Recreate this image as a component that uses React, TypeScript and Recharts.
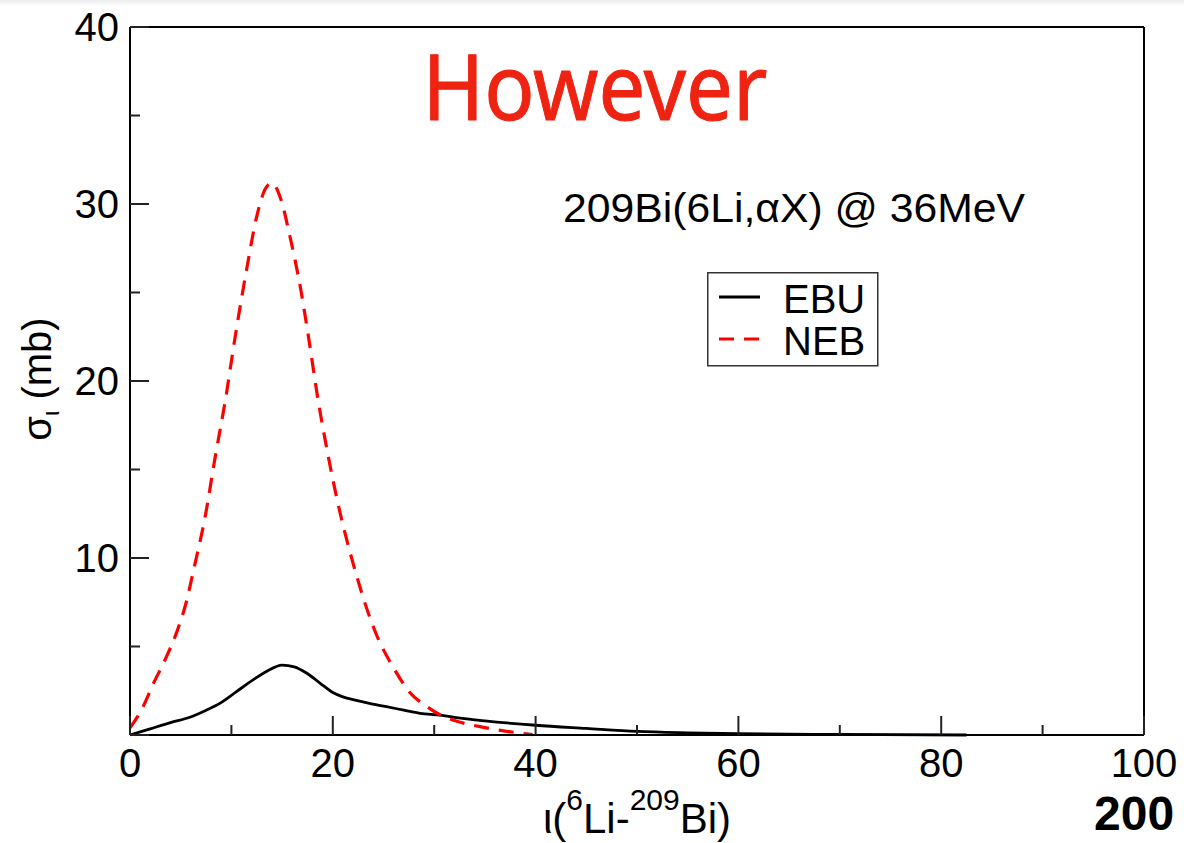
import React from 'react';
import { LineChart, Line, XAxis, YAxis, Legend } from 'recharts';

// ---- data ----
const ebuX = [0, 2, 4, 5.9, 7.5, 8.9, 10.5, 12.1, 13.5, 15.0, 16.2, 17.4, 18.7, 20.0, 21.0, 22.0, 23.5, 25.3, 27.0, 28.6, 30.6, 32.0, 35.0, 40.0, 45.0, 50.0, 55.0, 60.0, 70.0, 82.5];
const ebuY = [0, 0.35, 0.7, 1.0, 1.4, 1.8, 2.45, 3.1, 3.6, 3.95, 3.85, 3.5, 2.95, 2.4, 2.15, 2.0, 1.8, 1.6, 1.4, 1.22, 1.12, 1.0, 0.8, 0.55, 0.37, 0.2, 0.12, 0.07, 0.03, 0.0];

const nebX = [0, 1.2, 2.3, 3.5, 4.6, 5.5, 6.3, 7.4, 8.4, 9.4, 10.4, 11.5, 12.5, 13.3, 14.0, 14.8, 15.8, 16.8, 17.6, 18.5, 19.5, 20.5, 22.0, 24.0, 26.3, 27.6, 29.3, 30.6, 32.0, 35.0, 37.5, 39.7];
const nebY = [0.4, 1.5, 2.9, 4.3, 5.8, 7.4, 9.4, 12.3, 15.7, 18.9, 22.6, 26.3, 29.3, 30.8, 31.2, 30.4, 28.1, 25.3, 22.5, 19.1, 15.9, 13.1, 9.7, 6.1, 3.5, 2.4, 1.6, 1.13, 0.82, 0.42, 0.18, 0.02];

const seriesNames = ['EBU', 'NEB'];
const xTicks = [0, 10, 20, 30, 40, 50, 60, 70, 80, 90, 100];
const xLabelTicks = [0, 20, 40, 60, 80, 100];
const yTicks = [0, 5, 10, 15, 20, 25, 30, 35, 40];
const yLabelTicks = [10, 20, 30, 40];

const titleText = 'However';
const reactionText = '209Bi(6Li,\u03b1X) @ 36MeV';
const cornerText = '200';

const ebuData = ebuX.map((x, i) => ({ x, y: ebuY[i] }));
const nebData = nebX.map((x, i) => ({ x, y: nebY[i] }));

const FONT = "'Liberation Sans', Arial, Helvetica, sans-serif";
const MAJOR = 19;
const MINOR = 10;

const BottomTick = (props: any) => {
  const { x, y, payload } = props;
  const v = payload.value;
  const major = xLabelTicks.includes(v);
  return (
    <g>
      <line x1={x} y1={y} x2={x} y2={y - (major ? MAJOR : MINOR)} stroke="#222" strokeWidth={2} />
      {major && (
        <text x={x} y={y + 42} textAnchor="middle" fontSize={40} fontFamily={FONT} fill="#000">
          {v}
        </text>
      )}
    </g>
  );
};

const TopTick = (props: any) => {
  const { x, y, payload } = props;
  const major = xLabelTicks.includes(payload.value);
  return <line x1={x} y1={y} x2={x} y2={y + (major ? MAJOR : MINOR)} stroke="#222" strokeWidth={2} />;
};

const LeftTick = (props: any) => {
  const { x, y, payload } = props;
  const v = payload.value;
  const major = v % 10 === 0;
  return (
    <g>
      <line x1={x} y1={y} x2={x + (major ? MAJOR : MINOR)} y2={y} stroke="#222" strokeWidth={2} />
      {yLabelTicks.includes(v) && (
        <text x={x - 11} y={y + 14} textAnchor="end" fontSize={40} fontFamily={FONT} fill="#000">
          {v}
        </text>
      )}
    </g>
  );
};

const RightTick = (props: any) => {
  const { x, y, payload } = props;
  const major = payload.value % 10 === 0;
  return <line x1={x} y1={y} x2={x - (major ? MAJOR : MINOR)} y2={y} stroke="#222" strokeWidth={2} />;
};

const XTitle = (props: any) => {
  const vb = props.viewBox || { x: 0, y: 0, width: 0, height: 0 };
  const cx = vb.x + vb.width / 2;
  return (
    <text x={cx} y={vb.y + 98} textAnchor="middle" fontSize={42} fontFamily={FONT} fill="#000">
      <tspan>{'\u03b9('}</tspan>
      <tspan fontSize={30} dy={-23}>6</tspan>
      <tspan dy={23}>Li-</tspan>
      <tspan fontSize={30} dy={-23}>209</tspan>
      <tspan dy={23}>Bi)</tspan>
    </text>
  );
};

const YTitle = (props: any) => {
  const vb = props.viewBox || { x: 0, y: 0, width: 0, height: 0 };
  const cx = vb.x + 51;
  const cy = vb.y + vb.height / 2 - 2;
  return (
    <text
      x={cx}
      y={cy}
      transform={`rotate(-90, ${cx}, ${cy})`}
      textAnchor="middle"
      fontSize={40}
      fontFamily={FONT}
      fill="#000"
    >
      <tspan>{'\u03c3'}</tspan>
      <tspan fontSize={24} dy={8}>{'\u03b9'}</tspan>
      <tspan dy={-8}>{' (mb)'}</tspan>
    </text>
  );
};

const dashes: Record<string, string | undefined> = { EBU: undefined, NEB: '15 10' };

const renderLegend = (props: any) => {
  const payload: any[] = props.payload || [];
  return (
    <svg width={172} height={95} style={{ display: 'block' }}>
      <rect x={0.75} y={0.75} width={170} height={93} fill="#fff" stroke="#333" strokeWidth={1.5} />
      {seriesNames.map((name, i) => {
        const entry = payload.find((p) => p.value === name);
        const color = entry ? entry.color : '#000';
        const ly = 25 + i * 42;
        return (
          <g key={name}>
            <line x1={12} y1={ly} x2={53} y2={ly} stroke={color} strokeWidth={2.8} strokeDasharray={dashes[name]} />
            <text x={76} y={ly + 16} fontSize={40} fontFamily={FONT} fill="#000">
              {name}
            </text>
          </g>
        );
      })}
    </svg>
  );
};

export default function App() {
  return (
    <div style={{ position: 'absolute', left: 0, top: 0, width: 1184, height: 843, background: '#fff', overflow: 'hidden' }}>
      <div style={{ position: 'absolute', left: 0, top: 0, width: 1184, height: 6, background: 'linear-gradient(#ececec, #ffffff)' }} />
      <LineChart width={1184} height={843} margin={{ top: 26, right: 39, bottom: 0, left: 0 }}>
        <XAxis
          xAxisId="bottom"
          dataKey="x"
          type="number"
          domain={[0, 100]}
          ticks={xTicks}
          interval={0}
          height={108}
          tickSize={0}
          tickMargin={0}
          tickLine={false}
          axisLine={{ stroke: '#000', strokeWidth: 2 }}
          tick={<BottomTick />}
          label={{ content: XTitle }}
        />
        <XAxis
          xAxisId="top"
          orientation="top"
          dataKey="x"
          type="number"
          domain={[0, 100]}
          ticks={xTicks}
          interval={0}
          height={1}
          tickSize={0}
          tickMargin={0}
          tickLine={false}
          axisLine={{ stroke: '#000', strokeWidth: 2 }}
          tick={<TopTick />}
        />
        <YAxis
          yAxisId="left"
          type="number"
          domain={[0, 40]}
          ticks={yTicks}
          interval={0}
          width={130}
          tickSize={0}
          tickMargin={0}
          tickLine={false}
          axisLine={{ stroke: '#000', strokeWidth: 2 }}
          tick={<LeftTick />}
          label={{ content: YTitle }}
        />
        <YAxis
          yAxisId="right"
          orientation="right"
          type="number"
          domain={[0, 40]}
          ticks={yTicks}
          interval={0}
          width={1}
          tickSize={0}
          tickMargin={0}
          tickLine={false}
          axisLine={{ stroke: '#000', strokeWidth: 2 }}
          tick={<RightTick />}
        />
        <Legend
          layout="vertical"
          align="center"
          verticalAlign="middle"
          content={renderLegend}
          wrapperStyle={{ position: 'absolute', left: 707, top: 272, width: 172, height: 95 }}
        />
        <Line
          xAxisId="bottom"
          yAxisId="left"
          data={ebuData}
          dataKey="y"
          name={seriesNames[0]}
          type="monotone"
          stroke="#000000"
          strokeWidth={2.8}
          dot={false}
          activeDot={false}
          isAnimationActive={false}
        />
        <Line
          xAxisId="bottom"
          yAxisId="left"
          data={nebData}
          dataKey="y"
          name={seriesNames[1]}
          type="monotone"
          stroke="#ff0000"
          strokeWidth={3.2}
          strokeDasharray="15 10"
          dot={false}
          activeDot={false}
          isAnimationActive={false}
        />
      </LineChart>
      <svg width={1184} height={843} style={{ position: 'absolute', left: 0, top: 0, pointerEvents: 'none' }}>
        <text
          x={595}
          y={120}
          textAnchor="middle"
          fontSize={92}
          textLength={345}
          lengthAdjust="spacingAndGlyphs"
          fontFamily="'Comic Sans MS', 'Noto Sans', sans-serif"
          fill="#ef2312"
          stroke="#ef2312"
          strokeWidth={1}
          strokeLinejoin="round"
        >
          {titleText}
        </text>
        <text x={563} y={222} fontSize={40} textLength={462} lengthAdjust="spacingAndGlyphs" fontFamily={FONT} fill="#000">
          {reactionText}
        </text>
        <text x={1094} y={830} fontSize={48} fontWeight="bold" fontFamily={FONT} fill="#000">
          {cornerText}
        </text>
      </svg>
    </div>
  );
}
